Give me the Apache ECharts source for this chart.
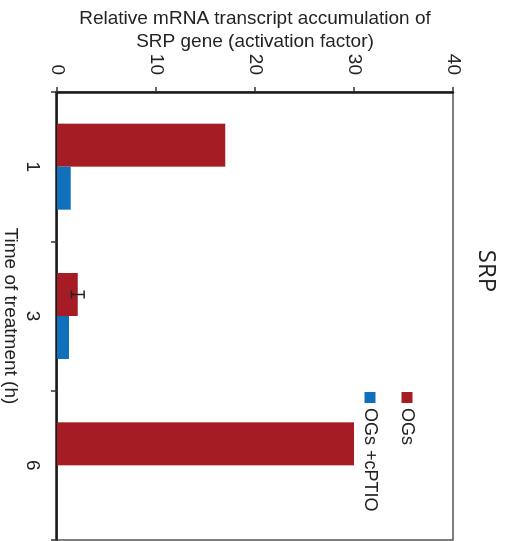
<!DOCTYPE html>
<html>
<head>
<meta charset="utf-8">
<script src="https://cdn.jsdelivr.net/npm/echarts@6/dist/echarts.min.js"></script>
<style>
  html, body { margin: 0; padding: 0; width: 512px; height: 541px; overflow: hidden; background: #fff; }
  #wrap { position: absolute; left: 0; top: 0; width: 541px; height: 512px;
          transform-origin: 0 0; transform: translate(512px, 0) rotate(90deg); }
  #chart { width: 541px; height: 512px; }
</style>
</head>
<body>
<div id="wrap"><div id="chart"></div></div>
<script>
// ---- data ----
const categories = ['1', '3', '6'];
const ogs = [17.0, 2.1, 30.0];
const ogsErr = [0, 0.64, 0];
const ogsCptio = [1.4, 1.2, null];
const valueMin = 0, valueMax = 40, valueInterval = 10;
const seriesNames = ['OGs', 'OGs +cPTIO'];
const chartTitle = 'SRP';
const valueAxisName = 'Relative mRNA transcript accumulation of\nSRP gene (activation factor)';
const categoryAxisName = 'Time of treatment (h)';

// ---- style constants ----
const RED = '#A51C24', BLUE = '#1170BC', INK = '#222';
const FONT = 'Liberation Sans';
const BAR_W = 43;

const errData = categories
  .map((c, i) => ogsErr[i] > 0 ? [i, ogs[i] - ogsErr[i], ogs[i] + ogsErr[i]] : null)
  .filter(d => d);

const chart = echarts.init(document.getElementById('chart'));
chart.setOption({
  animation: false,
  backgroundColor: '#fff',
  title: {
    text: chartTitle, left: 266, top: 8, textAlign: 'center',
    textStyle: { fontFamily: 'Open Sans', fontSize: 24, fontWeight: 'normal', color: INK, lineHeight: 26 }
  },
  legend: {
    data: seriesNames, orient: 'vertical', left: 392, top: 95, padding: 0,
    itemWidth: 11, itemHeight: 11, itemGap: 17, icon: 'rect',
    textStyle: { fontFamily: FONT, fontSize: 18, color: INK, lineHeight: 20 }
  },
  grid: {
    left: 92, top: 59, right: 1, bottom: 57, show: true,
    outerBoundsMode: 'none', containLabel: false,
    borderColor: '#555', borderWidth: 1.5, backgroundColor: 'transparent'
  },
  xAxis: {
    type: 'category', data: categories,
    name: categoryAxisName, nameLocation: 'middle', nameGap: 37, nameMoveOverlap: false,
    nameTextStyle: { fontFamily: FONT, fontSize: 19, color: INK, lineHeight: 19 },
    axisLine: { lineStyle: { color: '#1a1a1a', width: 2.5 } },
    axisTick: { show: true, length: 6, inside: false, lineStyle: { color: '#333', width: 1.5 } },
    axisLabel: { fontFamily: FONT, fontSize: 19, color: INK, margin: 15 },
    splitLine: { show: false }
  },
  yAxis: {
    type: 'value', min: valueMin, max: valueMax, interval: valueInterval,
    name: valueAxisName, nameLocation: 'middle', nameGap: 39, nameMoveOverlap: false,
    nameTextStyle: { fontFamily: FONT, fontSize: 19, color: INK, lineHeight: 23 },
    axisLine: { show: true, lineStyle: { color: '#1a1a1a', width: 2.5 } },
    axisTick: { show: true, length: 5, inside: false, lineStyle: { color: '#333', width: 1.5 } },
    axisLabel: { fontFamily: FONT, fontSize: 19, color: INK, margin: 17 },
    splitLine: { show: false }
  },
  series: [
    { name: seriesNames[0], type: 'bar', data: ogs, barWidth: BAR_W, barGap: '0%',
      itemStyle: { color: RED } },
    { name: seriesNames[1], type: 'bar', data: ogsCptio, barWidth: BAR_W, barGap: '0%',
      itemStyle: { color: BLUE } },
    { name: 'err', type: 'custom', data: errData, z: 10,
      encode: { x: 0, y: [1, 2] },
      renderItem: function (params, api) {
        const idx = api.value(0);
        const pLo = api.coord([idx, api.value(1)]);
        const pHi = api.coord([idx, api.value(2)]);
        const x = pLo[0] - BAR_W / 2;
        const cap = 4;
        const st = { stroke: INK, lineWidth: 1.5 };
        return { type: 'group', children: [
          { type: 'line', shape: { x1: x, y1: pLo[1], x2: x, y2: pHi[1] }, style: st },
          { type: 'line', shape: { x1: x - cap, y1: pLo[1], x2: x + cap, y2: pLo[1] }, style: st },
          { type: 'line', shape: { x1: x - cap, y1: pHi[1], x2: x + cap, y2: pHi[1] }, style: st }
        ]};
      }
    }
  ]
});
</script>
</body>
</html>
